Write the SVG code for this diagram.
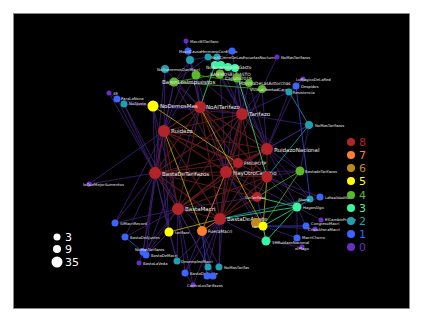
<svg xmlns="http://www.w3.org/2000/svg" width="429" height="322" viewBox="0 0 429 322">
<style>
.bg{fill:#000;stroke:#8a8a8a;stroke-width:0.8}
.e0{stroke:#41207a;stroke-width:0.85;fill:none;opacity:0.95}
.e8{stroke:#641b1e;stroke-width:1.15;fill:none;opacity:0.9}
.e5{stroke:#b8a800;stroke-width:0.85;fill:none}
.e7{stroke:#c8642a;stroke-width:1;fill:none}
.e4{stroke:#3f9a20;stroke-width:0.9;fill:none}
.e3{stroke:#2ec88a;stroke-width:0.9;fill:none}
.e2{stroke:#1a8a96;stroke-width:0.9;fill:none}
.e1{stroke:#2a40c0;stroke-width:0.9;fill:none}
.c8{fill:#b3242a}.c7{fill:#ff7f2a}.c6{fill:#c08a1a}.c5{fill:#ffff00}.c4{fill:#5cb82a}
.c3{fill:#3df5a0}.c2{fill:#1fa0b0}.c1{fill:#3c64ff}.c0{fill:#6a2cc8}
text{font-family:"DejaVu Sans","Liberation Sans",sans-serif;fill:#e8e8e8}
.big{font-size:5.5px}
.sm{font-size:3.8px}
.md{font-size:4.4px}
.lg{font-size:11px}
</style>
<rect class="bg" x="13.5" y="13.5" width="396" height="295"/>
<g id="connectors">
<line class="e0" x1="188" y1="51" x2="200" y2="107"/>
<line class="e0" x1="190" y1="60" x2="200" y2="107"/>
<line class="e0" x1="190" y1="60" x2="164" y2="131"/>
<line class="e0" x1="165" y1="69" x2="164" y2="131"/>
<line class="e0" x1="165" y1="69" x2="200" y2="107"/>
<line class="e0" x1="165" y1="69" x2="155" y2="173"/>
<line class="e0" x1="174" y1="82" x2="164" y2="131"/>
<line class="e0" x1="174" y1="82" x2="200" y2="107"/>
<line class="e0" x1="174" y1="82" x2="155" y2="173"/>
<line class="e0" x1="196" y1="75" x2="200" y2="107"/>
<line class="e0" x1="196" y1="75" x2="242" y2="114"/>
<line class="e0" x1="196" y1="75" x2="164" y2="131"/>
<line class="e0" x1="220" y1="74" x2="242" y2="114"/>
<line class="e0" x1="220" y1="74" x2="226" y2="172"/>
<line class="e0" x1="237" y1="78" x2="242" y2="114"/>
<line class="e0" x1="237" y1="78" x2="267" y2="149"/>
<line class="e0" x1="237" y1="78" x2="226" y2="172"/>
<line class="e0" x1="249" y1="83" x2="267" y2="149"/>
<line class="e0" x1="249" y1="83" x2="226" y2="172"/>
<line class="e0" x1="262" y1="89" x2="267" y2="149"/>
<line class="e0" x1="262" y1="89" x2="242" y2="114"/>
<line class="e0" x1="262" y1="89" x2="226" y2="172"/>
<line class="e0" x1="208" y1="57" x2="242" y2="114"/>
<line class="e0" x1="217" y1="57" x2="242" y2="114"/>
<line class="e0" x1="208" y1="57" x2="174" y2="82"/>
<line class="e0" x1="232" y1="51" x2="242" y2="114"/>
<line class="e0" x1="232" y1="51" x2="215" y2="65"/>
<line class="e0" x1="186" y1="41" x2="188" y2="51"/>
<line class="e0" x1="277" y1="57" x2="262" y2="89"/>
<line class="e0" x1="228" y1="67" x2="267" y2="149"/>
<line class="e0" x1="289" y1="92" x2="267" y2="149"/>
<line class="e0" x1="289" y1="92" x2="262" y2="89"/>
<line class="e0" x1="289" y1="92" x2="242" y2="114"/>
<line class="e0" x1="309" y1="125" x2="267" y2="149"/>
<line class="e0" x1="309" y1="125" x2="242" y2="114"/>
<line class="e0" x1="296" y1="86" x2="267" y2="149"/>
<line class="e0" x1="303" y1="79" x2="289" y2="92"/>
<line class="e0" x1="124" y1="104" x2="155" y2="173"/>
<line class="e0" x1="117" y1="99" x2="155" y2="173"/>
<line class="e0" x1="109" y1="93" x2="155" y2="173"/>
<line class="e0" x1="124" y1="104" x2="153" y2="106"/>
<line class="e0" x1="117" y1="99" x2="153" y2="106"/>
<line class="e0" x1="109" y1="93" x2="124" y2="104"/>
<line class="e0" x1="124" y1="104" x2="178" y2="209"/>
<line class="e0" x1="153" y1="106" x2="155" y2="173"/>
<line class="e0" x1="153" y1="106" x2="200" y2="107"/>
<line class="e0" x1="153" y1="106" x2="178" y2="209"/>
<line class="e0" x1="153" y1="106" x2="242" y2="114"/>
<line class="e0" x1="89" y1="184" x2="155" y2="173"/>
<line class="e0" x1="115" y1="223" x2="155" y2="173"/>
<line class="e0" x1="115" y1="223" x2="178" y2="209"/>
<line class="e0" x1="125" y1="237" x2="155" y2="173"/>
<line class="e0" x1="125" y1="237" x2="178" y2="209"/>
<line class="e0" x1="143" y1="252" x2="155" y2="173"/>
<line class="e0" x1="146" y1="255" x2="155" y2="173"/>
<line class="e0" x1="143" y1="252" x2="178" y2="209"/>
<line class="e0" x1="146" y1="255" x2="178" y2="209"/>
<line class="e0" x1="146" y1="255" x2="169" y2="232"/>
<line class="e0" x1="139" y1="263" x2="143" y2="252"/>
<line class="e0" x1="146" y1="255" x2="200" y2="107"/>
<line class="e0" x1="177" y1="261" x2="178" y2="209"/>
<line class="e0" x1="177" y1="261" x2="155" y2="173"/>
<line class="e0" x1="177" y1="261" x2="220" y2="219"/>
<line class="e0" x1="177" y1="261" x2="169" y2="232"/>
<line class="e0" x1="185" y1="273" x2="178" y2="209"/>
<line class="e0" x1="185" y1="273" x2="220" y2="219"/>
<line class="e0" x1="185" y1="273" x2="202" y2="231"/>
<line class="e0" x1="208" y1="267" x2="220" y2="219"/>
<line class="e0" x1="208" y1="267" x2="178" y2="209"/>
<line class="e0" x1="219" y1="267" x2="220" y2="219"/>
<line class="e0" x1="219" y1="267" x2="226" y2="172"/>
<line class="e0" x1="213" y1="276" x2="178" y2="209"/>
<line class="e0" x1="193" y1="285" x2="220" y2="219"/>
<line class="e0" x1="193" y1="285" x2="178" y2="209"/>
<line class="e0" x1="193" y1="285" x2="185" y2="273"/>
<line class="e0" x1="169" y1="232" x2="155" y2="173"/>
<line class="e0" x1="169" y1="232" x2="164" y2="131"/>
<line class="e0" x1="300" y1="171" x2="267" y2="149"/>
<line class="e0" x1="300" y1="171" x2="267" y2="177"/>
<line class="e0" x1="300" y1="171" x2="309" y2="125"/>
<line class="e0" x1="300" y1="171" x2="226" y2="172"/>
<line class="e0" x1="310" y1="199" x2="267" y2="177"/>
<line class="e0" x1="310" y1="199" x2="267" y2="149"/>
<line class="e0" x1="320" y1="197" x2="267" y2="177"/>
<line class="e0" x1="320" y1="197" x2="297" y2="207"/>
<line class="e0" x1="297" y1="207" x2="267" y2="177"/>
<line class="e0" x1="297" y1="207" x2="267" y2="149"/>
<line class="e0" x1="297" y1="207" x2="226" y2="172"/>
<line class="e0" x1="321" y1="220" x2="297" y2="207"/>
<line class="e0" x1="315" y1="229" x2="263" y2="226"/>
<line class="e0" x1="306" y1="226" x2="297" y2="207"/>
<line class="e0" x1="297" y1="238" x2="297" y2="207"/>
<line class="e0" x1="297" y1="238" x2="263" y2="226"/>
<line class="e0" x1="302" y1="247" x2="266" y2="241"/>
<line class="e0" x1="266" y1="241" x2="220" y2="219"/>
<line class="e0" x1="266" y1="241" x2="257" y2="197"/>
<line class="e0" x1="263" y1="226" x2="226" y2="172"/>
<line class="e0" x1="256" y1="223" x2="226" y2="172"/>
<line class="e0" x1="257" y1="197" x2="178" y2="209"/>
<line class="e0" x1="190" y1="60" x2="174" y2="82"/>
<line class="e0" x1="190" y1="60" x2="196" y2="75"/>
<line class="e0" x1="208" y1="57" x2="190" y2="60"/>
<line class="e0" x1="188" y1="51" x2="190" y2="60"/>
<line class="e0" x1="217" y1="57" x2="220" y2="74"/>
<line class="e0" x1="196" y1="75" x2="226" y2="172"/>
<line class="e0" x1="174" y1="82" x2="226" y2="172"/>
<line class="e0" x1="153" y1="106" x2="169" y2="232"/>
<line class="e0" x1="155" y1="173" x2="202" y2="231"/>
<line class="e0" x1="89" y1="184" x2="164" y2="131"/>
<line class="e0" x1="115" y1="223" x2="164" y2="131"/>
<line class="e0" x1="143" y1="252" x2="164" y2="131"/>
<line class="e0" x1="202" y1="231" x2="213" y2="276"/>
<line class="e0" x1="202" y1="231" x2="219" y2="267"/>
<line class="e0" x1="296" y1="86" x2="289" y2="92"/>
<line class="e0" x1="303" y1="79" x2="296" y2="86"/>
<line class="e0" x1="242" y1="114" x2="300" y2="171"/>
<line class="e0" x1="309" y1="125" x2="226" y2="172"/>
<line class="e8" x1="200" y1="107" x2="164" y2="131"/>
<line class="e8" x1="200" y1="107" x2="242" y2="114"/>
<line class="e8" x1="200" y1="107" x2="267" y2="149"/>
<line class="e8" x1="200" y1="107" x2="155" y2="173"/>
<line class="e8" x1="200" y1="107" x2="226" y2="172"/>
<line class="e8" x1="200" y1="107" x2="178" y2="209"/>
<line class="e8" x1="200" y1="107" x2="220" y2="219"/>
<line class="e8" x1="200" y1="107" x2="238" y2="163"/>
<line class="e8" x1="200" y1="107" x2="267" y2="177"/>
<line class="e8" x1="242" y1="114" x2="164" y2="131"/>
<line class="e8" x1="242" y1="114" x2="267" y2="149"/>
<line class="e8" x1="242" y1="114" x2="155" y2="173"/>
<line class="e8" x1="242" y1="114" x2="226" y2="172"/>
<line class="e8" x1="242" y1="114" x2="178" y2="209"/>
<line class="e8" x1="242" y1="114" x2="220" y2="219"/>
<line class="e8" x1="242" y1="114" x2="257" y2="197"/>
<line class="e8" x1="242" y1="114" x2="238" y2="163"/>
<line class="e8" x1="164" y1="131" x2="267" y2="149"/>
<line class="e8" x1="164" y1="131" x2="155" y2="173"/>
<line class="e8" x1="164" y1="131" x2="226" y2="172"/>
<line class="e8" x1="164" y1="131" x2="178" y2="209"/>
<line class="e8" x1="164" y1="131" x2="220" y2="219"/>
<line class="e8" x1="164" y1="131" x2="238" y2="163"/>
<line class="e8" x1="164" y1="131" x2="267" y2="177"/>
<line class="e8" x1="267" y1="149" x2="155" y2="173"/>
<line class="e8" x1="267" y1="149" x2="226" y2="172"/>
<line class="e8" x1="267" y1="149" x2="238" y2="163"/>
<line class="e8" x1="267" y1="149" x2="267" y2="177"/>
<line class="e8" x1="267" y1="149" x2="178" y2="209"/>
<line class="e8" x1="267" y1="149" x2="220" y2="219"/>
<line class="e8" x1="238" y1="163" x2="155" y2="173"/>
<line class="e8" x1="238" y1="163" x2="226" y2="172"/>
<line class="e8" x1="238" y1="163" x2="178" y2="209"/>
<line class="e8" x1="238" y1="163" x2="220" y2="219"/>
<line class="e8" x1="155" y1="173" x2="226" y2="172"/>
<line class="e8" x1="155" y1="173" x2="178" y2="209"/>
<line class="e8" x1="155" y1="173" x2="220" y2="219"/>
<line class="e8" x1="155" y1="173" x2="267" y2="177"/>
<line class="e8" x1="155" y1="173" x2="257" y2="197"/>
<line class="e8" x1="226" y1="172" x2="178" y2="209"/>
<line class="e8" x1="226" y1="172" x2="220" y2="219"/>
<line class="e8" x1="226" y1="172" x2="267" y2="177"/>
<line class="e8" x1="226" y1="172" x2="257" y2="197"/>
<line class="e8" x1="267" y1="177" x2="220" y2="219"/>
<line class="e8" x1="257" y1="197" x2="220" y2="219"/>
<line class="e8" x1="178" y1="209" x2="220" y2="219"/>
<line class="e8" x1="178" y1="209" x2="267" y2="177"/>
<line class="e8" x1="267" y1="177" x2="257" y2="197"/>
<line class="e5" x1="153" y1="106" x2="238" y2="163"/>
<line class="e5" x1="164" y1="131" x2="202" y2="231"/>
<line class="e5" x1="200" y1="107" x2="263" y2="226"/>
<line class="e5" x1="267" y1="177" x2="263" y2="226"/>
<line class="e5" x1="169" y1="232" x2="220" y2="219"/>
<line class="e5" x1="256" y1="223" x2="263" y2="226"/>
<line class="e7" x1="202" y1="231" x2="220" y2="219"/>
<line class="e7" x1="202" y1="231" x2="226" y2="172"/>
<line class="e4" x1="174" y1="82" x2="262" y2="89"/>
<line class="e4" x1="174" y1="82" x2="220" y2="74"/>
<line class="e4" x1="196" y1="75" x2="249" y2="83"/>
<line class="e4" x1="300" y1="171" x2="257" y2="197"/>
<line class="e4" x1="300" y1="171" x2="263" y2="226"/>
<line class="e3" x1="215" y1="65" x2="200" y2="107"/>
<line class="e3" x1="235" y1="68" x2="267" y2="177"/>
<line class="e3" x1="297" y1="207" x2="263" y2="226"/>
<line class="e3" x1="297" y1="207" x2="220" y2="219"/>
<line class="e3" x1="297" y1="207" x2="266" y2="241"/>
<line class="e3" x1="266" y1="241" x2="263" y2="226"/>
<line class="e3" x1="297" y1="207" x2="257" y2="197"/>
<line class="e2" x1="289" y1="92" x2="309" y2="125"/>
<line class="e2" x1="309" y1="125" x2="267" y2="177"/>
<line class="e2" x1="310" y1="199" x2="220" y2="219"/>
<line class="e2" x1="310" y1="199" x2="297" y2="207"/>
<line class="e1" x1="296" y1="86" x2="310" y2="199"/>
<line class="e1" x1="306" y1="226" x2="263" y2="226"/>
<line class="e1" x1="207" y1="276" x2="202" y2="231"/>
<line class="e1" x1="125" y1="237" x2="143" y2="252"/>
</g>
<g id="nodes">
<g id="n-NoAlTarifazo"><circle class="c8" cx="200" cy="107" r="6"/><text class="big" x="206" y="109">NoAlTarifazo</text></g>
<g id="n-Tarifazo"><circle class="c8" cx="242" cy="114" r="6"/><text class="big" x="249" y="116">Tarifazo</text></g>
<g id="n-Ruidazo"><circle class="c8" cx="164" cy="131" r="6"/><text class="big" x="171" y="133">Ruidazo</text></g>
<g id="n-RuidazoNacional"><circle class="c8" cx="267" cy="149" r="6"/><text class="big" x="274" y="151.5">RuidazoNacional</text></g>
<g id="n-FMIUPOTP"><circle class="c8" cx="238" cy="163" r="5"/><text class="md" x="244" y="165">FMIUPOTP</text></g>
<g id="n-BastaDeTarifazos"><circle class="c8" cx="155" cy="173" r="6"/><text class="big" x="162" y="175.5">BastaDeTarifazos</text></g>
<g id="n-HayOtroCamino"><circle class="c8" cx="226" cy="172" r="6"/><text class="big" x="233" y="174.5">HayOtroCamino</text></g>
<g id="n-red9"><circle class="c8" cx="267" cy="177" r="5.5"/></g>
<g id="n-SinTarifazo"><circle class="c8" cx="257" cy="197" r="5"/><text class="sm" x="245" y="199">SinTarifazo</text></g>
<g id="n-BastaMacri"><circle class="c8" cx="178" cy="209" r="6"/><text class="big" x="185" y="211">BastaMacri</text></g>
<g id="n-BastaDeAjuste"><circle class="c8" cx="220" cy="219" r="6"/><text class="big" x="227" y="221">BastaDeAjuste</text></g>
<g id="n-FueraMacri"><circle class="c7" cx="202" cy="231" r="5"/><text class="md" x="208" y="233">FueraMacri</text></g>
<g id="n-NoDemosMas"><circle class="c5" cx="153" cy="106" r="5.5"/><text class="big" x="160" y="108">NoDemosMas</text></g>
<g id="n-tarifazo"><circle class="c5" cx="169" cy="232" r="4.5"/><text class="sm" x="175" y="234">tarifazo</text></g>
<g id="n-gold"><circle class="c6" cx="256" cy="223" r="5"/><text class="sm" x="252" y="228">tarifazo</text></g>
<g id="n-yellow3"><circle class="c5" cx="263" cy="226" r="4.5"/></g>
<g id="n-BajenLosImpuestos"><circle class="c4" cx="174" cy="82" r="4.5"/><text class="big" x="162" y="84">BajenLosImpuestos</text></g>
<g id="n-g2"><circle class="c4" cx="196" cy="75" r="4.5"/></g>
<g id="n-BAJEMOSELGASTO"><circle class="c4" cx="220" cy="74" r="4.5"/><text class="md" x="210" y="76">BAJEMOSELGASTO</text></g>
<g id="n-Caputo2019"><circle class="c4" cx="237" cy="78" r="4.5"/><text class="md" x="225" y="80">Caputo2019</text></g>
<g id="n-MarchaDeLasAntorchas"><circle class="c4" cx="249" cy="83" r="4"/><text class="md" x="239" y="85">MarchaDeLasAntorchas</text></g>
<g id="n-VivaLaLibertad"><circle class="c4" cx="262" cy="89" r="4"/><text class="sm" x="250" y="91">VivaLaLibertadCarajo</text></g>
<g id="n-BastadeTarifazos"><circle class="c4" cx="300" cy="171" r="4.5"/><text class="sm" x="305" y="173">BastadeTarifazos</text></g>
<g id="n-l1"><circle class="c3" cx="215" cy="65" r="4"/></g>
<g id="n-l2"><circle class="c3" cx="221" cy="65" r="4"/></g>
<g id="n-l3"><circle class="c3" cx="228" cy="67" r="4"/></g>
<g id="n-l4"><circle class="c3" cx="235" cy="68" r="4"/><text class="md" x="206" y="68.5">NoAumentenElGasto</text></g>
<g id="n-HaganAlgo"><circle class="c3" cx="297" cy="207" r="4.5"/><text class="sm" x="303" y="209">HaganAlgo</text></g>
<g id="n-1MRuidazoNacional"><circle class="c3" cx="266" cy="241" r="4.5"/><text class="sm" x="272" y="244">1MRuidazoNacional</text></g>
<g id="n-t1"><circle class="c2" cx="190" cy="60" r="4"/></g>
<g id="n-t2"><circle class="c2" cx="208" cy="57" r="3.5"/></g>
<g id="n-t3"><circle class="c2" cx="217" cy="57" r="3.5"/><text class="sm" x="211" y="59">NoAlCierreDeLasEscuelasNocturnas</text></g>
<g id="n-t4"><circle class="c2" cx="165" cy="69" r="4"/><text class="sm" x="157" y="70.5">NoQueremosQueMacri</text></g>
<g id="n-t5"><circle class="c2" cx="124" cy="104" r="3.5"/><text class="sm" x="129" y="105">NoAjuste</text></g>
<g id="n-Resistencia"><circle class="c2" cx="289" cy="92" r="3.5"/><text class="sm" x="293" y="94">Resistencia</text></g>
<g id="n-NoMasTarifazos"><circle class="c2" cx="309" cy="125" r="4"/><text class="sm" x="315" y="127">NoMasTarifazos</text></g>
<g id="n-Ahora"><circle class="c2" cx="310" cy="199" r="3.5"/><text class="sm" x="298" y="201">Ahora</text></g>
<g id="n-t9"><circle class="c2" cx="177" cy="261" r="3.5"/><text class="sm" x="181" y="263">DesempleoMacri</text></g>
<g id="n-t10"><circle class="c2" cx="208" cy="267" r="3.5"/></g>
<g id="n-t11"><circle class="c2" cx="219" cy="267" r="3.5"/><text class="sm" x="224" y="269">NoMasTarifas</text></g>
<g id="n-b1"><circle class="c1" cx="188" cy="51" r="3.5"/><text class="sm" x="179" y="53">MacriCausaHermanoConElRolo</text></g>
<g id="n-b2"><circle class="c1" cx="232" cy="51" r="3.5"/></g>
<g id="n-Despidos"><circle class="c1" cx="296" cy="86" r="3.5"/><text class="sm" x="301" y="88">Despidos</text></g>
<g id="n-ParaLaNona"><circle class="c1" cx="117" cy="99" r="3.5"/><text class="sm" x="121" y="100">ParaLaNona</text></g>
<g id="n-b5"><circle class="c1" cx="115" cy="223" r="3.5"/><text class="sm" x="120" y="225">SiMacriRecord</text></g>
<g id="n-b6"><circle class="c1" cx="125" cy="237" r="3.5"/><text class="sm" x="130" y="239">BastaDeAjustes</text></g>
<g id="n-b7"><circle class="c1" cx="143" cy="252" r="3.5"/><text class="sm" x="135" y="251">NoMasTarifazos</text></g>
<g id="n-b8"><circle class="c1" cx="146" cy="255" r="3.5"/><text class="sm" x="151" y="256.5">BastaDeMacri</text></g>
<g id="n-b9"><circle class="c1" cx="320" cy="197" r="3.5"/><text class="sm" x="325" y="199" style="font-size:3.5px">LaRealidadMacri</text></g>
<g id="n-b10"><circle class="c1" cx="306" cy="226" r="3.5"/><text class="sm" x="311" y="225">CongresoMacri</text></g>
<g id="n-MacriChorro"><circle class="c1" cx="297" cy="238" r="3.5"/><text class="sm" x="302" y="238.5">MacriChorro</text></g>
<g id="n-b12"><circle class="c1" cx="185" cy="273" r="3.5"/><text class="sm" x="190" y="275">BastaDeAjuste</text></g>
<g id="n-b13"><circle class="c1" cx="207" cy="276" r="3.5"/></g>
<g id="n-b14"><circle class="c1" cx="213" cy="276" r="3.5"/></g>
<g id="n-MacriElTarifazo"><circle class="c0" cx="186" cy="41" r="2.5"/><text class="sm" x="190" y="42.5">MacriElTarifazo</text></g>
<g id="n-NoMasTarifazos2"><circle class="c0" cx="277" cy="57" r="2.5"/><text class="sm" x="281" y="58.5">NoMasTarifazos</text></g>
<g id="n-4E"><circle class="c0" cx="109" cy="93" r="2.5"/><text class="sm" x="113" y="94.5">4E</text></g>
<g id="n-p4"><circle class="c0" cx="303" cy="79" r="2.5"/><text class="sm" x="296" y="80.5">LoMagicoDeLaRed</text></g>
<g id="n-p5"><circle class="c0" cx="89" cy="184" r="2.5"/><text class="sm" x="83" y="185.5">loQueMejorAumentos</text></g>
<g id="n-BastaLaVeda"><circle class="c0" cx="139" cy="263" r="2.5"/><text class="sm" x="143" y="264.5">BastaLaVeda</text></g>
<g id="n-p7"><circle class="c0" cx="321" cy="220" r="2.5"/><text class="sm" x="325" y="221">ElCambioFraude</text></g>
<g id="n-p8"><circle class="c0" cx="315" cy="229" r="2.5"/><text class="sm" x="308" y="230.5">CrisisAhoraMacri</text></g>
<g id="n-p9"><circle class="c0" cx="302" cy="247" r="2.5"/><text class="sm" x="295" y="249.5">elPlago</text></g>
<g id="n-p10"><circle class="c0" cx="193" cy="285" r="2.5"/><text class="sm" x="187" y="286.5">ContraLosTarifazos</text></g>
</g>
<g id="legend-color">
<circle class="c8" cx="351" cy="142" r="4"/><text class="lg" x="359" y="146" style="fill:#b3242a">8</text>
<circle class="c7" cx="351" cy="155" r="4"/><text class="lg" x="359" y="159" style="fill:#ff7f2a">7</text>
<circle class="c6" cx="351" cy="168" r="4"/><text class="lg" x="359" y="172" style="fill:#c08a1a">6</text>
<circle class="c5" cx="351" cy="181" r="4"/><text class="lg" x="359" y="185" style="fill:#ffff00">5</text>
<circle class="c4" cx="351" cy="195" r="4"/><text class="lg" x="359" y="199" style="fill:#5cb82a">4</text>
<circle class="c3" cx="351" cy="208" r="4"/><text class="lg" x="359" y="212" style="fill:#3df5a0">3</text>
<circle class="c2" cx="351" cy="221" r="4"/><text class="lg" x="359" y="225" style="fill:#1fa0b0">2</text>
<circle class="c1" cx="351" cy="234" r="4"/><text class="lg" x="359" y="238" style="fill:#3c64ff">1</text>
<circle class="c0" cx="351" cy="247" r="4"/><text class="lg" x="359" y="251" style="fill:#6a2cc8">0</text>
</g>
<g id="legend-size">
<circle cx="57" cy="237" r="3.5" fill="#fff"/><text class="lg" x="65" y="241" style="fill:#fff">3</text>
<circle cx="57" cy="249" r="4" fill="#fff"/><text class="lg" x="65" y="253" style="fill:#fff">9</text>
<circle cx="57" cy="262" r="5.5" fill="#fff"/><text class="lg" x="65" y="266" style="fill:#fff">35</text>
</g>
</svg>
